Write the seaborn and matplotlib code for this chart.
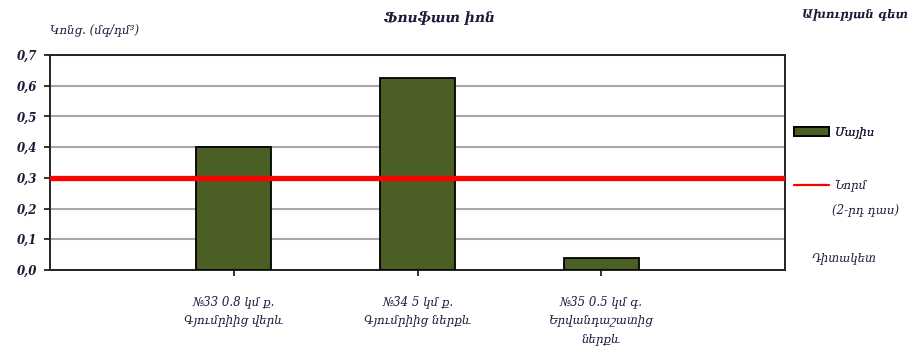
import matplotlib
matplotlib.use("Agg")
import matplotlib.pyplot as plt
import seaborn as sns
import pandas as pd
from matplotlib.patches import Patch
from matplotlib.lines import Line2D

# ---- data ----
categories = ["№33 0.8 կմ ք.\nԳյումրիից վերև",
              "№34 5 կմ ք.\nԳյումրիից ներքև",
              "№35 0.5 կմ գ.\nԵրվանդաշատից\nներքև"]
may_values = [0.40, 0.625, 0.04]
norm_value = 0.3
y_ticks = [0.0, 0.1, 0.2, 0.3, 0.4, 0.5, 0.6, 0.7]
title = "Ֆոսֆատ իոն"
y_label = "Կոնց. (մգ/դմ³)"
river = "Ախուրյան գետ"
series_label = "Մայիս"
norm_label = "Նորմ"
norm_label2 = "(2-րդ դաս)"
x_title = "Դիտակետ"

sns.set_theme(style="white")
plt.rcParams['font.family'] = ['DejaVu Serif', 'DejaVu Sans']
plt.rcParams['font.style'] = 'italic'

txt = '#1c1c3a'
bar_color = '#4b5e24'

df = pd.DataFrame({"cat": categories, "val": may_values})

fig = plt.figure(figsize=(9.16, 3.58), dpi=100)
ax = fig.add_axes([50/916, 1-270/358, 735/916, 215/358])

sns.barplot(data=df, x="cat", y="val", order=categories, color=bar_color,
            width=0.41, edgecolor='black', linewidth=1.3, saturation=1, ax=ax,
            zorder=3)
ax.axhline(norm_value, color='#ff0000', lw=3.8, zorder=4)

ax.set_xlim(-1, 3)
ax.set_ylim(0, 0.7)
ax.set_yticks(y_ticks)
ax.set_yticklabels([f"{v:.1f}".replace('.', ',') for v in y_ticks],
                   fontsize=8.5, fontweight='bold', color=txt)
ax.set_xticks(range(len(categories)))
ax.set_xticklabels(categories, fontsize=8.5, color=txt, linespacing=1.55)
ax.set_xlabel("")
ax.set_ylabel("")
ax.yaxis.grid(True, color='#a8a8a8', lw=1.5, zorder=0)
ax.set_axisbelow(True)
for s in ax.spines.values():
    s.set_visible(True)
    s.set_color('#222222')
    s.set_linewidth(1.4)
ax.tick_params(axis='both', which='both', direction='out', length=4, width=1.3,
               color='#222222', left=True, bottom=True)
ax.tick_params(axis='x', pad=14)
ax.tick_params(axis='y', pad=5)

fig.text(440/916, 1-18/358, title, ha='center', va='center', fontsize=10,
         fontweight='bold', color=txt)
fig.text(50/916, 1-30/358, y_label, ha='left', va='center', fontsize=8.5,
         color=txt)
fig.text(855/916, 1-14/358, river, ha='center', va='center', fontsize=8.5,
         fontweight='bold', color=txt)

leg1 = fig.legend(handles=[Patch(facecolor=bar_color, edgecolor='black', lw=1.3)],
                  labels=[series_label], loc='center left',
                  bbox_to_anchor=(783/916, 1-132/358), frameon=False,
                  fontsize=8.5, handlelength=3.0, handleheight=0.9,
                  handletextpad=0.5, labelcolor=txt)
fig.add_artist(leg1)
leg2 = fig.legend(handles=[Line2D([0], [0], color='#ff0000', lw=1.6)],
                  labels=[norm_label], loc='center left',
                  bbox_to_anchor=(783/916, 1-186/358), frameon=False,
                  fontsize=8.5, handlelength=3.0, handletextpad=0.5,
                  labelcolor=txt)
fig.text(832/916, 1-210/358, norm_label2, ha='left', va='center', fontsize=8.5,
         color=txt)
fig.text(812/916, 1-258/358, x_title, ha='left', va='center', fontsize=8.5,
         color=txt)

fig.savefig("out.png", dpi=100)
